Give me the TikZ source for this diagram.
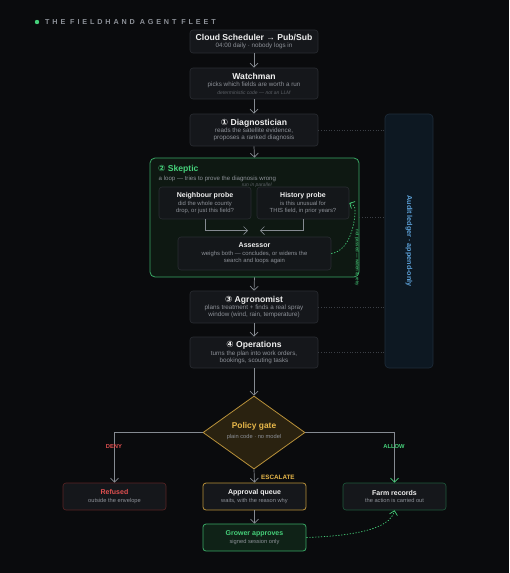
\documentclass[tikz,border=0pt]{standalone}
\usepackage{fontspec}
\setmainfont{Liberation Sans}
\newfontfamily\djv{DejaVu Sans}
\newfontfamily\spaced[LetterSpace=40]{Liberation Sans}
\usetikzlibrary{arrows.meta,shapes.geometric}
\definecolor{bg}{HTML}{0A0B0D}
\definecolor{boxfill}{HTML}{15171B}
\definecolor{boxline}{HTML}{2A2D32}
\definecolor{txt}{HTML}{F0F0F0}
\definecolor{subc}{HTML}{8D9198}
\definecolor{dimc}{HTML}{5C6066}
\definecolor{arrowc}{HTML}{858A91}
\definecolor{gr}{HTML}{45D07A}
\definecolor{grline}{HTML}{3AA865}
\definecolor{grfill}{HTML}{0E1812}
\definecolor{gold}{HTML}{E8B84A}
\definecolor{goldline}{HTML}{B8913A}
\definecolor{goldfill}{HTML}{2A2210}
\definecolor{red}{HTML}{E05050}
\definecolor{redline}{HTML}{5A2424}
\definecolor{farmline}{HTML}{1F5A3C}
\definecolor{growfill}{HTML}{0F2217}
\definecolor{ledfill}{HTML}{0D1822}
\definecolor{ledline}{HTML}{1E2D3B}
\definecolor{ledtxt}{HTML}{5B9FD6}
\definecolor{dotc}{HTML}{3B3F45}
\newcommand\bt[1]{{\fontsize{8.6}{10}\selectfont\bfseries\color{txt}#1}}
\newcommand\mt[1]{{\fontsize{7}{8.4}\selectfont\bfseries #1}}
\tikzset{
  box/.style={draw=boxline, fill=boxfill, rounded corners=3pt, line width=0.6pt, align=center,
    inner sep=0pt, text=subc, font=\fontsize{6.3}{7.2}\selectfont},
  inbox/.style={box, fill=boxfill!85!grfill, font=\fontsize{5.9}{7}\selectfont},
  outbox/.style={box, font=\fontsize{5.7}{6.8}\selectfont, minimum width=103pt, minimum height=27pt},
  flow/.style={draw=arrowc, line width=0.7pt, -{Straight Barb[length=4pt,width=8pt]}},
  ledgerlink/.style={draw=dotc, line width=0.6pt, dash pattern=on 1pt off 1.6pt},
  loopline/.style={draw=gr, line width=0.7pt, dash pattern=on 1.3pt off 1.6pt, -{Straight Barb[length=4pt,width=8pt]}},
  lbl/.style={font=\fontsize{5.8}{6.5}\selectfont\bfseries, inner sep=0pt},
}
\begin{document}
\begin{tikzpicture}[x=1pt,y=-1pt]
\fill[bg] (0,0) rectangle (509,573);
\useasboundingbox (0,0) rectangle (509,573);
% heading
\fill[gr] (37,22) circle (2.2pt) coordinate (dot);
\node[anchor=west, inner sep=0pt, text=subc, font=\fontsize{7.2}{8}\selectfont\bfseries\spaced] (head) at (45,22) {THE FIELDHAND AGENT FLEET};
% ledger
\node[draw=ledline, fill=ledfill, rounded corners=4pt, line width=0.6pt, minimum width=48pt, minimum height=254pt] (ledger) at (409,241) {};
\node[rotate=-90, text=ledtxt, font=\fontsize{7.2}{8}\selectfont\bfseries, inner sep=0pt] (ledtext) at (409,241) {Audit ledger · append-only};
% main chain
\node[box, minimum width=128pt, minimum height=23pt] (cloud) at (254,41.5) {\bt{Cloud Scheduler → Pub/Sub}\\[-0.5pt]04:00 daily · nobody logs in};
\node[box, minimum width=128pt, minimum height=31pt] (watch) at (254,83.5) {\bt{Watchman}\\[0.5pt]picks which fields are worth a run\\{\fontsize{5}{6}\selectfont\itshape\color{dimc}deterministic code — not an LLM}};
\node[box, minimum width=128pt, minimum height=32pt] (diag) at (254,130) {\bt{{\djv ①} Diagnostician}\\[0.5pt]reads the satellite evidence,\\proposes a ranked diagnosis};
% skeptic
\node[draw=grline, fill=grfill, rounded corners=5pt, line width=0.8pt, minimum width=209pt, minimum height=119pt] (skep) at (254.5,217.5) {};
\node[anchor=west, inner sep=0pt, text=gr, font=\fontsize{8.6}{10}\selectfont\bfseries] (skeptitle) at (158,169) {{\djv ②} Skeptic};
\node[anchor=west, inner sep=0pt, text=subc, font=\fontsize{6.1}{7}\selectfont] (skepsub) at (158.5,179) {a loop — tries to prove the diagnosis wrong};
\node[anchor=east, inner sep=0pt, text=dimc, font=\fontsize{5}{6}\selectfont\itshape] (par) at (272,185.3) {run in parallel};
\node[inbox, minimum width=92pt, minimum height=32pt] (nb) at (205,203) {\mt{\color{txt}Neighbour probe}\\[1pt]did the whole county\\drop, or just this field?};
\node[inbox, minimum width=92pt, minimum height=32pt] (hist) at (303,203) {\mt{\color{txt}History probe}\\[1pt]is this unusual for\\THIS field, in prior years?};
\node[inbox, minimum width=153pt, minimum height=33pt] (assess) at (254.5,253.5) {\mt{\color{txt}Assessor}\\[1pt]weighs both — concludes, or widens the\\search and loops again};
\coordinate (mL) at (248,230.5);
\coordinate (mR) at (260,230.5);
\draw[flow] (nb.south) |- (mL);
\draw[flow] (hist.south) |- (mR);
\draw[loopline] (assess.east) .. controls (350,251) and (355,222) .. (355,212) .. controls (355,206) .. (hist.east);
\node[rotate=-90, text=gr, font=\fontsize{4.6}{5}\selectfont, inner sep=0pt] (looplbl) at (357,258) {not passed — widen \& retry};
% lower chain
\node[box, minimum width=128pt, minimum height=32pt] (agro) at (254,307) {\bt{{\djv ③} Agronomist}\\[0.5pt]plans treatment + finds a real spray\\window (wind, rain, temperature)};
\node[box, minimum width=128pt, minimum height=31pt] (ops) at (254,352.5) {\bt{{\djv ④} Operations}\\[0.5pt]turns the plan into work orders,\\bookings, scouting tasks};
\draw[flow] (cloud.south) -- (watch.north);
\draw[flow] (watch.south) -- (diag.north);
\draw[flow] (diag.south) -- (skep.north);
\draw[flow] (skep.south) -- (agro.north);
\draw[flow] (agro.south) -- (ops.north);
% ledger links
\draw[ledgerlink] (diag.east) -- (ledger.west |- diag.east);
\draw[ledgerlink] (skep.east) -- (ledger.west |- skep.east);
\draw[ledgerlink] (agro.east) -- (ledger.west |- agro.east);
\draw[ledgerlink] (ops.east) -- (ledger.west |- ops.east);
% gate
\node[diamond, draw=goldline, fill=goldfill, line width=0.8pt, minimum width=102pt, minimum height=73pt, inner sep=0pt] (gate) at (254,432.5) {};
\node[text=gold, font=\fontsize{8.4}{9}\selectfont\bfseries, inner sep=0pt] (gatetitle) at (254,426) {Policy gate};
\node[text=subc, font=\fontsize{5.7}{6}\selectfont, inner sep=0pt] (gatesub) at (254,437.5) {plain code · no model};
\draw[flow] (ops.south) -- (gate.north);
% outcomes
\node[outbox, draw=redline] (refused) at (114.5,496.5) {\mt{\color{red}Refused}\\[0.5pt]outside the envelope};
\node[outbox, draw=goldline, line width=0.8pt] (queue) at (254.5,496.5) {\mt{\color{txt}Approval queue}\\[0.5pt]waits, with the reason why};
\node[outbox, draw=farmline] (farm) at (394.5,496.5) {\mt{\color{txt}Farm records}\\[0.5pt]the action is carried out};
\node[outbox, draw=grline, fill=growfill, line width=0.8pt] (grower) at (254.5,537.5) {\mt{\color{gr}Grower approves}\\[0.5pt]signed session only};
\draw[flow] (gate.west) -| (refused.north);
\draw[draw=arrowc, line width=0.7pt, -{Straight Barb[length=4pt,width=8pt,color=gr]}] (gate.east) -| (farm.north);
\draw[flow] (gate.south) -- (queue.north);
\draw[flow] (queue.south) -- (grower.north);
\draw[loopline] (grower.east) .. controls (350,536) and (390,530) .. (farm.south);
\node[lbl, text=red] (deny) at (114,446.5) {DENY};
\node[lbl, text=gr] (allow) at (394,446.5) {ALLOW};
\node[lbl, text=gold, anchor=west, font=\fontsize{6.3}{7}\selectfont\bfseries] (esc) at (261,477) {ESCALATE};
\end{tikzpicture}
\end{document}
